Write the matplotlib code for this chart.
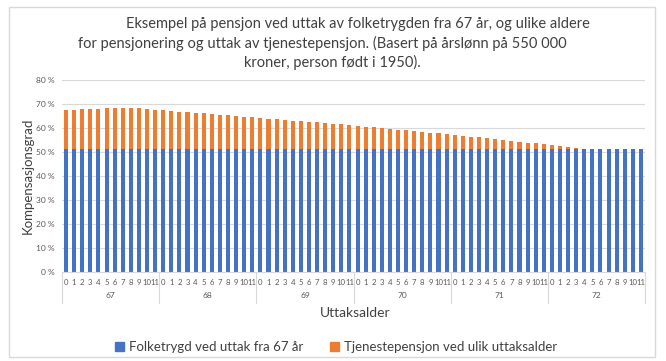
import numpy as np
import matplotlib.pyplot as plt
from matplotlib.patches import Patch, Rectangle
from matplotlib.ticker import FuncFormatter

plt.rcParams['font.family'] = ['Lato', 'DejaVu Sans']

# uttaksalder: year x month
years = [67, 68, 69, 70, 71, 72]
months = list(range(12))

# kompensasjonsgrad in percent
folketrygd = [51.3] * 72
tjenestepensjon = [
    16.4, 16.4, 16.6, 16.6, 16.8, 16.9, 17.0, 17.0, 17.0, 16.9, 16.6, 16.3,
    16.0, 15.7, 15.5, 15.2, 15.0, 14.8, 14.5, 14.3, 14.0, 13.7, 13.4, 13.1,
    12.9, 12.6, 12.3, 12.0, 11.8, 11.6, 11.3, 11.1, 10.8, 10.5, 10.3, 9.95,
    9.5, 9.3, 9.0, 8.7, 8.4, 8.0, 7.7, 7.45, 7.2, 6.8, 6.5, 6.2,
    5.8, 5.5, 5.1, 4.8, 4.5, 4.1, 3.7, 3.4, 3.0, 2.6, 2.3, 1.9,
    1.5, 1.1, 0.7, 0.2, 0, 0, 0, 0, 0, 0, 0, 0,
]

blue = '#4472C4'
orange = '#ED7D31'
grey = '#595959'
grid = '#D9D9D9'

W, H = 666, 361
fig = plt.figure(figsize=(W / 100, H / 100), dpi=100)
ax = fig.add_axes([62 / W, 1 - 272 / H, (645 - 62) / W, (272 - 80) / H])

x = np.arange(len(folketrygd))
ax.bar(x, folketrygd, width=0.5, color=blue, zorder=2)
ax.bar(x, tjenestepensjon, width=0.5, bottom=folketrygd, color=orange, zorder=2)

ax.set_xlim(-0.5, len(x) - 0.5)
ax.set_ylim(0, 80)
ax.set_yticks(range(0, 81, 10))
ax.yaxis.set_major_formatter(FuncFormatter(lambda v, p: f"{int(v)} %"))
ax.grid(axis='y', color=grid, lw=0.8, zorder=0)
for s in ['top', 'right', 'left']:
    ax.spines[s].set_visible(False)
ax.spines['bottom'].set_color(grid)

ax.set_xticks(x)
ax.set_xticklabels([str(m) for y in years for m in months])
ax.tick_params(axis='x', length=0, labelsize=5.6, labelcolor=grey, pad=5)
ax.tick_params(axis='y', length=0, labelsize=6, labelcolor=grey, pad=5)

# year groups below the month labels
tr = ax.get_xaxis_transform()
n = len(months)
for i, yr in enumerate(years):
    ax.text(i * n + (n - 1) / 2, -0.125, str(yr), transform=tr,
            ha='center', va='center', fontsize=6, color=grey)
for i in range(len(years) + 1):
    ax.plot([i * n - 0.5] * 2, [0, -0.16], transform=tr, color=grid,
            lw=0.8, clip_on=False)

fig.text(355 / W, 1 - 313 / H, 'Uttaksalder', ha='center', va='center',
         fontsize=10, color='#404040')
fig.text(28 / W, 1 - 176 / H, 'Kompensasjonsgrad', ha='center', va='center',
         rotation=90, fontsize=9.5, color='#404040')

title = [
    (358, 24, 'Eksempel på pensjon ved uttak av folketrygden fra 67 år, og ulike aldere'),
    (322, 43, 'for pensjonering og uttak av tjenestepensjon. (Basert på årslønn på 550 000'),
    (332, 62, 'kroner, person født i 1950).'),
]
for tx, ty, t in title:
    fig.text(tx / W, 1 - ty / H, t, ha='center', va='center', fontsize=10.5,
             color='#404040')

handles = [Patch(color=blue, label='Folketrygd ved uttak fra 67 år'),
           Patch(color=orange, label='Tjenestepensjon ved ulik uttaksalder')]
fig.legend(handles=handles, loc='center', bbox_to_anchor=(336 / W, 1 - 347 / H),
           ncol=2, frameon=False, fontsize=9.5, handlelength=0.7,
           handleheight=0.7, handletextpad=0.4, columnspacing=2.0,
           labelcolor='#404040')

fig.patches.append(Rectangle((9 / W, 1 - 357 / H), (655 - 9) / W, (357 - 7) / H,
                             transform=fig.transFigure, fill=False,
                             edgecolor=grid, lw=1))

fig.savefig('out.png', dpi=100)
